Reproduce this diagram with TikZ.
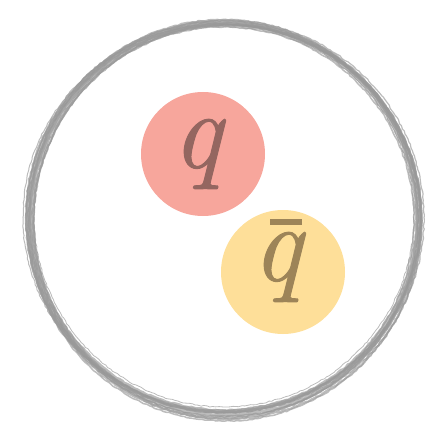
\documentclass[tikz,border=0pt]{standalone}
\usepackage{fontspec}
\newfontfamily\qfont{Latin Modern Roman}[ItalicFeatures={FakeBold=0.9}]
\usetikzlibrary{decorations.pathmorphing}
\definecolor{qfill}{HTML}{F7A69C}
\definecolor{qtext}{HTML}{946660}
\definecolor{afill}{HTML}{FEDF99}
\definecolor{atext}{HTML}{9D8458}
\definecolor{rim}{HTML}{989898}
\tikzset{
  ball/.style={circle, inner sep=0pt, minimum size=124pt},
  letter/.style={inner sep=0pt, font=\qfont\fontsize{110}{110}\selectfont\itshape},
  brush/.style={draw=rim, line width=#1, opacity=0.65,
    decorate, decoration={random steps, segment length=3pt, amplitude=0.6pt}},
}
\begin{document}
\begin{tikzpicture}[x=1pt,y=-1pt]
\pgfmathsetseed{7}
\useasboundingbox (0,0) rectangle (425,422);
% sketchy outer ring
\foreach \cx/\cy/\rx/\ry/\w in {
  224/218/193/193/4pt,
  225/219/195/196/3pt,
  223/217/197/195/2.5pt,
  224/220/190/193/1.5pt,
  225/218/199/198/1.2pt,
  223/219/194/199/2.5pt,
  224/218/197/194/3pt,
  226/221/192/196/1.2pt,
  222/217/199/193/1pt,
  225/221/197/200/1.5pt,
  224/216/190/191/0.8pt,
  227/222/194/197/2pt}
  {\draw[brush=\w] (\cx,\cy) ellipse [x radius=\rx pt, y radius=\ry pt];}
\node[ball, fill=qfill] (qb) at (203,154) {};
\node[ball, fill=afill] (ab) at (283,272) {};
\node[letter, text=qtext] (ql) at (197,154) {q};
\node[letter, text=atext] (al) at (277,267) {q};
\fill[atext] (270,219) rectangle (302,225);
\end{tikzpicture}
\end{document}
